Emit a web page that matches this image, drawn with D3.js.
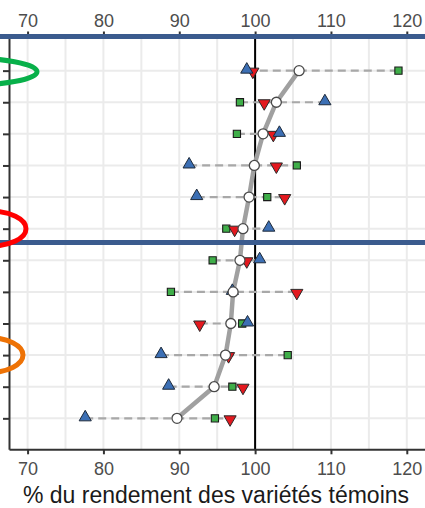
<!DOCTYPE html>
<html><head><meta charset="utf-8">
<script src="https://cdn.jsdelivr.net/npm/d3@7"></script>
<style>body{margin:0;background:#fff}svg{display:block}</style>
</head><body>
<svg id="c" width="425" height="508"></svg>
<script>
// ---- data ----
const rows = ["1","2","3","4","5","6","7","8","9","10","11","12"];
const blueUp  = [98.9,109.2,103.2,91.3,92.3,101.8,100.6,97.0,99.0,87.6,88.6,77.6];
const redDown = [99.7,101.2,102.4,102.8,103.9,97.3,98.9,105.5,92.7,96.5,98.4,96.7];
const greenSq = [118.9,98.0,97.6,105.5,101.6,96.2,94.4,88.9,98.3,104.3,97.0,94.7];
const meanPt  = [105.8,102.8,101.05,99.9,99.2,98.4,98.0,97.1,96.8,96.1,94.6,89.7];
const xTicks = [70,80,90,100,110,120];
const xGrid  = [70,75,80,85,90,95,100,105,110,115,120];
const xTitle = "% du rendement des variétés témoins";

const svg = d3.select("#c");
const W = 425;
const x = d3.scaleLinear().domain([67.55, 122.4]).range([9, 425]);
const y = d3.scaleLinear().domain([-1.08, 11.98]).range([36.5, 449.3]);
const yRow = i => y(i);

// grid
const g = svg.append("g");
g.selectAll(".vg").data(xGrid).join("line")
  .attr("x1", d => x(d)).attr("x2", d => x(d)).attr("y1", y(-1.08)).attr("y2", y(11.98))
  .attr("stroke", "#ebebeb").attr("stroke-width", 2);
g.selectAll(".hg").data(rows).join("line")
  .attr("x1", 9).attr("x2", W).attr("y1", (d,i) => yRow(i)).attr("y2", (d,i) => yRow(i))
  .attr("stroke", "#ebebeb").attr("stroke-width", 2);

// reference line at 100
svg.append("line").attr("x1", x(100)).attr("x2", x(100))
  .attr("y1", y(-1.08)).attr("y2", y(11.98)).attr("stroke", "#000").attr("stroke-width", 2);

// dashed ranges
const ext = rows.map((d,i) => d3.extent([blueUp[i], redDown[i], greenSq[i]]));
svg.selectAll(".rng").data(ext).join("line")
  .attr("x1", d => x(d[0])).attr("x2", d => x(d[1]))
  .attr("y1", (d,i) => yRow(i)).attr("y2", (d,i) => yRow(i))
  .attr("stroke", "#a8a8a8").attr("stroke-width", 2.2).attr("stroke-dasharray", "8,5");

// mean line
svg.append("path").datum(meanPt)
  .attr("d", d3.line().x(d => x(d)).y((d,i) => yRow(i)))
  .attr("fill", "none").attr("stroke", "#a0a0a0").attr("stroke-width", 4.5)
  .attr("stroke-linejoin", "round");

// markers
const sq = d3.symbol().type(d3.symbolSquare).size(52);
const tri = d3.symbol().type(d3.symbolTriangle).size(64);
svg.selectAll(".gs").data(greenSq).join("path")
  .attr("d", sq).attr("transform", (d,i) => `translate(${x(d)},${yRow(i)})`)
  .attr("fill", "#3fae49").attr("stroke", "#1a1a1a").attr("stroke-width", 1.1);
svg.selectAll(".rd").data(redDown).join("path")
  .attr("d", tri).attr("transform", (d,i) => `translate(${x(d)},${yRow(i)+1}) rotate(180)`)
  .attr("fill", "#e3191f").attr("stroke", "#2a2a2a").attr("stroke-width", 1);
svg.selectAll(".bu").data(blueUp).join("path")
  .attr("d", tri).attr("transform", (d,i) => `translate(${x(d)},${yRow(i)-1})`)
  .attr("fill", "#3c6fb4").attr("stroke", "#1e2a3a").attr("stroke-width", 1);
svg.selectAll(".mc").data(meanPt).join("circle")
  .attr("cx", d => x(d)).attr("cy", (d,i) => yRow(i)).attr("r", 5)
  .attr("fill", "#fff").attr("stroke", "#4a4a4a").attr("stroke-width", 1.3);

// left axis
const yAx = svg.append("g").attr("transform", "translate(9,0)")
  .call(d3.axisLeft(y).tickValues(d3.range(rows.length)).tickFormat("").tickSize(6).tickSizeOuter(0));
yAx.select(".domain").attr("stroke", "#333").attr("stroke-width", 2);
yAx.selectAll(".tick line").attr("stroke", "#333").attr("stroke-width", 2);

// bottom axis
const xAx = svg.append("g").attr("transform", `translate(0,${y(11.98)})`)
  .call(d3.axisBottom(x).tickValues(xTicks).tickSize(5).tickPadding(8).tickSizeOuter(0));
xAx.select(".domain").attr("stroke", "#333").attr("stroke-width", 2);
xAx.selectAll(".tick line").attr("stroke", "#333").attr("stroke-width", 2);
xAx.selectAll("text").attr("font-family", "Liberation Sans, Arial, sans-serif")
  .attr("font-size", 18).attr("fill", "#4d4d4d");

// top axis
const tAx = svg.append("g").attr("transform", `translate(0,${y(-1.08)})`)
  .call(d3.axisTop(x).tickValues(xTicks).tickSize(5).tickPadding(4.5).tickSizeOuter(0));
tAx.select(".domain").remove();
tAx.selectAll(".tick line").attr("stroke", "#333").attr("stroke-width", 2);
tAx.selectAll("text").attr("font-family", "Liberation Sans, Arial, sans-serif")
  .attr("font-size", 18).attr("fill", "#4d4d4d");

// blue separator lines
svg.selectAll(".sep").data([-1.08, 5.44]).join("line")
  .attr("x1", 0).attr("x2", W).attr("y1", d => y(d)).attr("y2", d => y(d))
  .attr("stroke", "#3b5b8e").attr("stroke-width", 5);

// highlight ellipses
const ells = [
  {row: 0, cx: -40, dy: 1, rx: 77, ry: 14, c: "#08b04a"},
  {row: 5, cx: -10, dy: 0, rx: 36, ry: 17.5, c: "#ff0000"},
  {row: 9, cx: -12, dy: 0, rx: 35, ry: 17.5, c: "#ee7205"}
];
svg.selectAll(".el").data(ells).join("ellipse")
  .attr("cx", d => d.cx).attr("cy", d => yRow(d.row) + d.dy)
  .attr("rx", d => d.rx).attr("ry", d => d.ry)
  .attr("fill", "none").attr("stroke", d => d.c).attr("stroke-width", 5);

// x title
svg.append("text").attr("x", 216).attr("y", 502.5).attr("text-anchor", "middle")
  .attr("font-family", "Liberation Sans, Arial, sans-serif").attr("font-size", 23)
  .attr("fill", "#1a1a1a").text(xTitle);
</script>
</body></html>
